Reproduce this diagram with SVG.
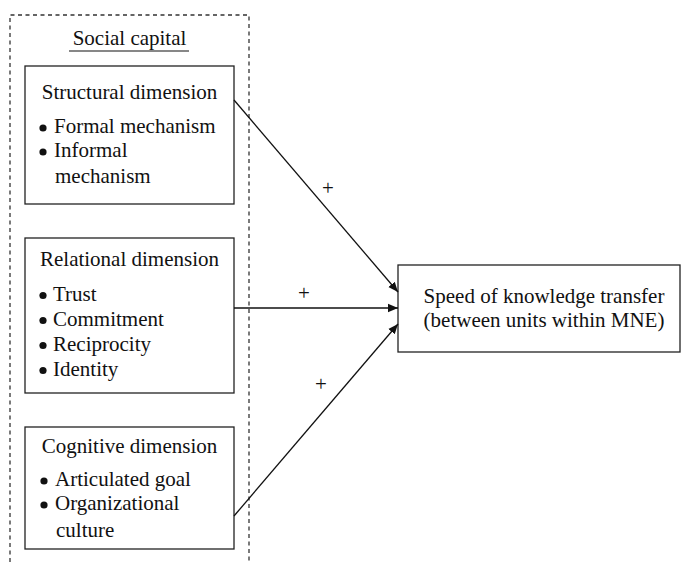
<svg xmlns="http://www.w3.org/2000/svg" width="683" height="562" viewBox="0 0 683 562">
  <style>
    text { font-family: "Liberation Serif", "Times New Roman", serif; font-size: 21px; fill: #111; }
    .box { fill: #fff; stroke: #222; stroke-width: 1.3; }
    .frame { fill: none; stroke: #333; stroke-width: 1.3; stroke-dasharray: 4 3.5; }
    .conn { fill: none; stroke: #111; stroke-width: 1.3; }
    .mid { text-anchor: middle; }
    .dot { fill: #111; }
  </style>
  <defs>
    <marker id="arrow" viewBox="0 0 10 10" refX="10" refY="5" markerWidth="10" markerHeight="10" markerUnits="userSpaceOnUse" orient="auto">
      <path d="M0,0.8 L10,5 L0,9.2 Z" fill="#111"/>
    </marker>
  </defs>

  <rect width="683" height="562" fill="#fff"/>

  <!-- social capital frame (open at the bottom) -->
  <g id="social-capital">
    <path class="frame" d="M10,562 V15 H249 V562"/>
    <text class="mid" x="129.5" y="45">Social capital</text>
    <line x1="69" y1="51" x2="189" y2="51" stroke="#111" stroke-width="1.2"/>
  </g>

  <g id="structural">
    <rect class="box" x="25" y="66" width="209" height="138"/>
    <text class="mid" x="129.5" y="99">Structural dimension</text>
    <circle class="dot" cx="43" cy="128" r="3.6"/><text x="54" y="133">Formal mechanism</text>
    <circle class="dot" cx="43" cy="152" r="3.6"/><text x="54" y="157">Informal</text>
    <text x="55" y="183">mechanism</text>
  </g>

  <g id="relational">
    <rect class="box" x="25" y="238" width="209" height="155"/>
    <text class="mid" x="129.5" y="266">Relational dimension</text>
    <circle class="dot" cx="43" cy="295.5" r="3.6"/><text x="53" y="300.5">Trust</text>
    <circle class="dot" cx="43" cy="320.5" r="3.6"/><text x="53" y="325.5">Commitment</text>
    <circle class="dot" cx="43" cy="345.5" r="3.6"/><text x="53" y="350.5">Reciprocity</text>
    <circle class="dot" cx="43" cy="370.5" r="3.6"/><text x="53" y="375.5">Identity</text>
  </g>

  <g id="cognitive">
    <rect class="box" x="25" y="427" width="209" height="122"/>
    <text class="mid" x="129.5" y="453">Cognitive dimension</text>
    <circle class="dot" cx="44" cy="481" r="3.6"/><text x="55" y="486">Articulated goal</text>
    <circle class="dot" cx="44" cy="505" r="3.6"/><text x="55" y="510">Organizational</text>
    <text x="56" y="537">culture</text>
  </g>

  <g id="speed">
    <rect class="box" x="398" y="265" width="282" height="87"/>
    <text class="mid" x="544" y="303">Speed of knowledge transfer</text>
    <text class="mid" x="544" y="327">(between units within MNE)</text>
  </g>

  <g id="connectors">
    <line class="conn" x1="234" y1="100" x2="398" y2="292" marker-end="url(#arrow)"/>
    <line class="conn" x1="234" y1="308" x2="398" y2="308" marker-end="url(#arrow)"/>
    <line class="conn" x1="234" y1="516" x2="398" y2="324" marker-end="url(#arrow)"/>
    <text class="mid" x="328" y="195">+</text>
    <text class="mid" x="304" y="300">+</text>
    <text class="mid" x="321" y="391">+</text>
  </g>
</svg>
